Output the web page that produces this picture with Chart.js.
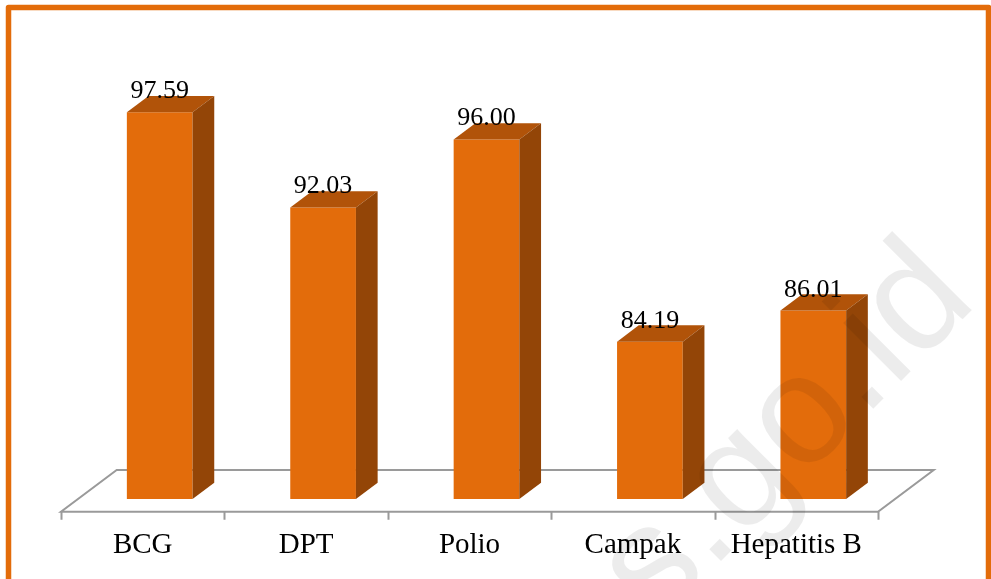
<!DOCTYPE html>
<html><head><meta charset="utf-8">
<script src="https://cdn.jsdelivr.net/npm/chart.js@4.4.0/dist/chart.umd.min.js"></script>
<style>html,body{margin:0;padding:0;background:#fff;}canvas{display:block;}</style>
</head><body>
<canvas id="c" width="991" height="579"></canvas>
<script>
// ---- data ----
const categories = ['BCG', 'DPT', 'Polio', 'Campak', 'Hepatitis B'];
const coverage = [97.59, 92.03, 96.00, 84.19, 86.01];
const axisMin = 75;
const axisMax = 100;
const watermarkText = 'bps.go.id';

// ---- styling ----
const FRONT = '#E36C0B', TOP = '#B15309', SIDE = '#934507';
const BAR_D = {dx: 21.7, dy: 16.3};
const FLOOR = {fx: -17, fy: 12.7, bx: 38.7, by: -29};

const threeD = {
  id: 'threeD',
  beforeDatasetsDraw(chart) {
    const ctx = chart.ctx, a = chart.chartArea;
    const L = a.left, R = a.right, B = a.bottom;
    ctx.save();
    ctx.strokeStyle = '#9A9A9A';
    ctx.lineWidth = 2;
    ctx.beginPath();
    ctx.moveTo(L + FLOOR.fx, B + FLOOR.fy); ctx.lineTo(R + FLOOR.fx, B + FLOOR.fy);
    ctx.lineTo(R + FLOOR.bx, B + FLOOR.by); ctx.lineTo(L + FLOOR.bx, B + FLOOR.by);
    ctx.closePath();
    ctx.stroke();
    const n = categories.length, w = (R - L) / n;
    ctx.beginPath();
    for (let i = 0; i <= n; i++) {
      const x = Math.round(L + FLOOR.fx + i * w) + 0.5;
      ctx.moveTo(x, B + FLOOR.fy); ctx.lineTo(x, B + FLOOR.fy + 8);
    }
    ctx.stroke();
    ctx.restore();
  },
  afterDatasetsDraw(chart) {
    const ctx = chart.ctx;
    const meta = chart.getDatasetMeta(0);
    const b = chart.scales.y.getPixelForValue(axisMin);
    ctx.save();
    meta.data.forEach((bar, i) => {
      const l = bar.x - bar.width / 2, r = bar.x + bar.width / 2, t = bar.y;
      const dx = BAR_D.dx, dy = BAR_D.dy;
      ctx.fillStyle = TOP;
      ctx.beginPath();
      ctx.moveTo(l, t); ctx.lineTo(r, t); ctx.lineTo(r + dx, t - dy); ctx.lineTo(l + dx, t - dy);
      ctx.closePath(); ctx.fill();
      ctx.fillStyle = SIDE;
      ctx.beginPath();
      ctx.moveTo(r, t); ctx.lineTo(r + dx, t - dy); ctx.lineTo(r + dx, b - dy); ctx.lineTo(r, b);
      ctx.closePath(); ctx.fill();
      ctx.fillStyle = '#000';
      ctx.font = '26px "Liberation Serif", "Times New Roman", serif';
      ctx.textAlign = 'center';
      ctx.textBaseline = 'alphabetic';
      ctx.fillText(coverage[i].toFixed(2), bar.x, t - 14);
    });
    ctx.restore();
  },
  afterDraw(chart) {
    const ctx = chart.ctx;
    ctx.save();
    ctx.translate(979, 303);
    ctx.rotate(-Math.PI / 4);
    ctx.fillStyle = 'rgba(0,0,0,0.075)';
    ctx.font = '155px "Liberation Sans", Arial, sans-serif';
    ctx.textAlign = 'right';
    ctx.textBaseline = 'alphabetic';
    ctx.fillText(watermarkText, 0, 0);
    ctx.restore();
    ctx.save();
    ctx.strokeStyle = '#E36C0A';
    ctx.lineWidth = 5.5;
    ctx.lineJoin = 'round';
    ctx.strokeRect(8.5, 7.5, 980, 620);
    ctx.restore();
  }
};

new Chart(document.getElementById('c'), {
  type: 'bar',
  data: {
    labels: categories,
    datasets: [{
      data: coverage,
      backgroundColor: FRONT,
      borderWidth: 0,
      barPercentage: 0.402,
      categoryPercentage: 1.0
    }]
  },
  options: {
    responsive: false,
    animation: false,
    events: [],
    layout: {padding: {left: 78, right: 96, top: 71, bottom: 16}},
    plugins: {legend: {display: false}, tooltip: {enabled: false}, title: {display: false}},
    scales: {
      x: {
        grid: {display: false, drawTicks: false},
        border: {display: false},
        ticks: {
          color: '#000',
          font: {family: '"Liberation Serif", "Times New Roman", serif', size: 29},
          padding: 29,
          labelOffset: -17,
          maxRotation: 0,
          autoSkip: false
        },
        afterFit(s) { s.height = 64; }
      },
      y: {display: false, min: axisMin, max: axisMax}
    }
  },
  plugins: [threeD]
});
</script>
</body></html>
